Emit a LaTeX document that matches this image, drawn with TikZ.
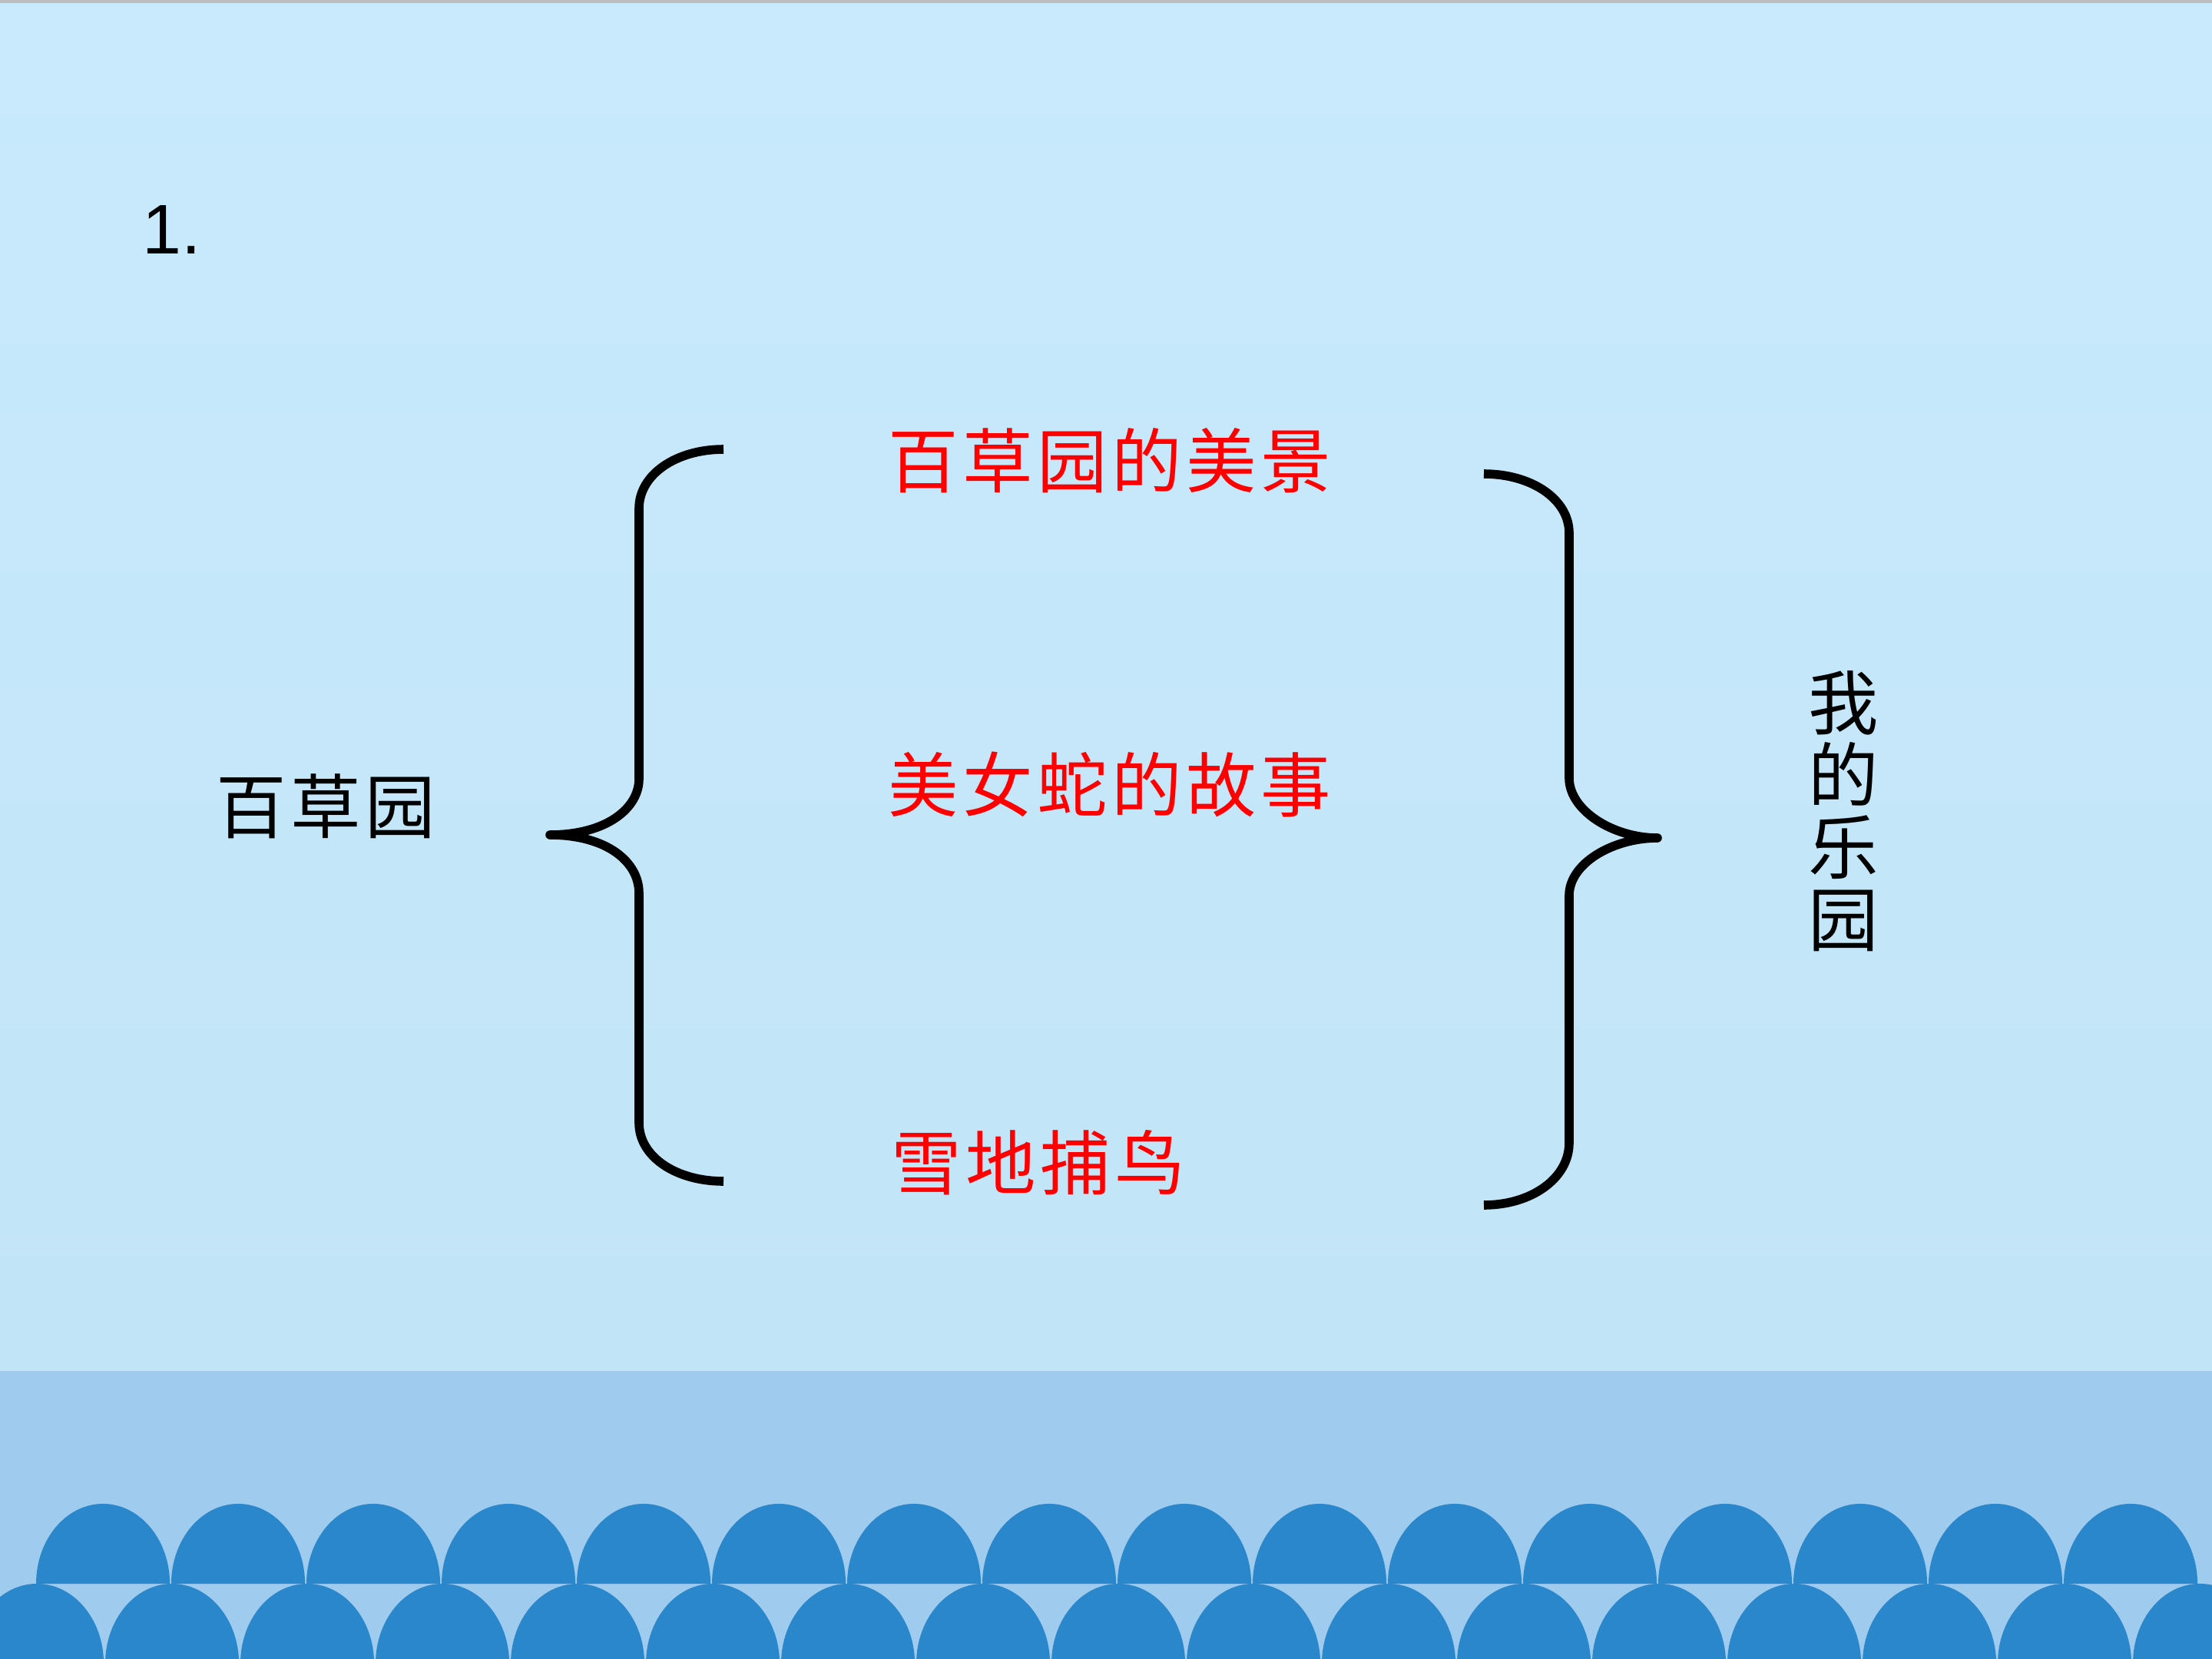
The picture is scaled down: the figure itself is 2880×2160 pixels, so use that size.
\documentclass[tikz,border=0pt]{standalone}
\usepackage{fontspec}
\setmainfont{Liberation Sans}
\newfontfamily\cjk{Noto Sans CJK SC}
\definecolor{skytop}{HTML}{C8EAFC}
\definecolor{skybot}{HTML}{C2E4F7}
\definecolor{band}{HTML}{9FCBEF}
\definecolor{wave}{HTML}{2A87CB}
\definecolor{edge}{HTML}{BDBDBD}
\usepackage{tikz}

\begin{document}
\begin{tikzpicture}[
  x=0.01cm, y=-0.01cm,
  % node styles
  label/.style = {inner sep=0pt, font=\cjk\fontsize{26}{27}\selectfont\addfontfeature{LetterSpace=6}},
  item/.style  = {label, anchor=west, text=red},
  num/.style   = {inner sep=0pt, anchor=base west, font=\fontsize{26}{30}\selectfont},
  % shape styles
  brace/.style = {draw=black, line width=3.3pt, line join=round},
  arch/.style  = {fill=wave},
]
\useasboundingbox (0,0) rectangle (2880,2160);

%% Background
\shade[top color=skytop, bottom color=skybot] (0,0) rectangle (2880,1785);
\fill[edge] (0,0) rectangle (2880,4);
\fill[band] (0,1785) rectangle (2880,2160);

%% Waves (two rows of arches)
\begin{scope}
  \clip (0,0) rectangle (2880,2160);
  \foreach \i in {0,...,15}
    \fill[arch] ({47+176*\i},2062) arc[start angle=180, end angle=0,
                x radius=0.87cm, y radius=1.04cm] -- cycle;
  \foreach \i in {0,...,16}
    \fill[arch] ({-39+176*\i},2166) arc[start angle=180, end angle=0,
                x radius=0.87cm, y radius=1.04cm] -- cycle;
\end{scope}

%% Heading
\node[num] (title) at (185,330) {1.};

%% Left: source
\node[label] (garden) at (424,1050) {百草园};

%% Middle: three items
\node[item] (scenery) at (1156,600)  {百草园的美景};
\node[item] (snake)   at (1156,1021) {美女蛇的故事};
\node[item] (birds)   at (1160,1514) {雪地捕鸟};

%% Right: target (vertical)
\node[label, align=center, font=\cjk\fontsize{26}{26.7}\selectfont] (paradise) at (2400,1056)
  {我\\的\\乐\\园};

%% Braces
\coordinate (lb-top) at (942,585);
\coordinate (lb-tip) at (716,1087);
\coordinate (lb-bot) at (942,1538);
\coordinate (rb-top) at (1932,617);
\coordinate (rb-tip) at (2158,1091);
\coordinate (rb-bot) at (1932,1569);

\draw[brace] (lb-top) .. controls (880,585) and (832,618) .. (832,662)
  -- (832,1014) .. controls (832,1052) and (790,1087) .. (lb-tip)
  .. controls (790,1087) and (832,1122) .. (832,1163)
  -- (832,1462) .. controls (832,1506) and (880,1538) .. (lb-bot);

\draw[brace] (rb-top) .. controls (1994,617) and (2043,650) .. (2043,694)
  -- (2043,1013) .. controls (2043,1055) and (2100,1091) .. (rb-tip)
  .. controls (2100,1091) and (2043,1124) .. (2043,1166)
  -- (2043,1488) .. controls (2043,1534) and (1994,1569) .. (rb-bot);

\end{tikzpicture}
\end{document}
